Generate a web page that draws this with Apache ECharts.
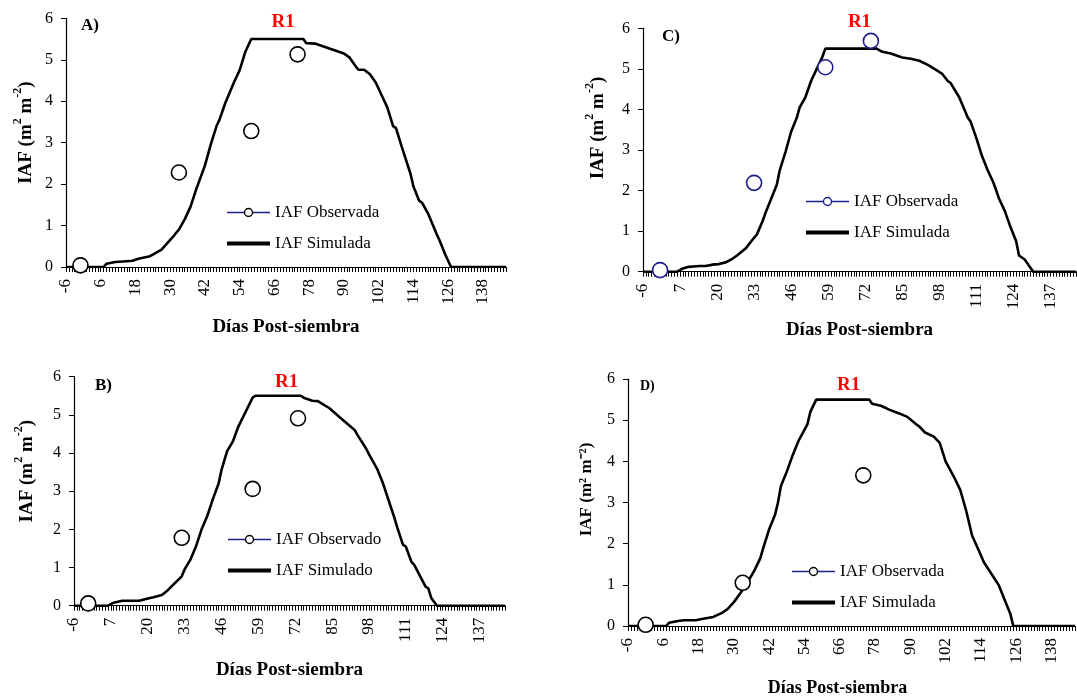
<!DOCTYPE html>
<html>
<head>
<meta charset="utf-8">
<title>IAF observada y simulada</title>
<script src="https://cdn.jsdelivr.net/npm/echarts@6/dist/echarts.min.js"></script>
<style>
  html, body { margin: 0; padding: 0; background: #ffffff; }
  #chart { width: 1077px; height: 698px; }
</style>
</head>
<body>
<div id="chart"></div>
<script>
// Days after sowing on the category axis
const firstDay = -6;
const lastDay = 146;

// A) simulated and observed leaf area index
const simDaysA = [-6, 7, 8, 11, 15, 17, 19, 23, 24, 27, 28, 31, 32, 33, 35, 37, 39, 42, 44, 46, 47, 49, 52, 54, 56, 58, 76, 77, 80, 83, 85, 88, 90, 92, 94, 95, 97, 99, 101, 103, 105, 107, 108, 110, 113, 114, 116, 117, 119, 122, 123, 125, 127, 146];
const simValsA = [0, 0, 0.08, 0.12, 0.14, 0.15, 0.2, 0.26, 0.3, 0.42, 0.5, 0.73, 0.82, 0.9, 1.15, 1.45, 1.88, 2.45, 2.95, 3.4, 3.55, 3.95, 4.45, 4.75, 5.2, 5.5, 5.5, 5.4, 5.39, 5.32, 5.27, 5.2, 5.15, 5.05, 4.85, 4.76, 4.76, 4.65, 4.45, 4.15, 3.85, 3.4, 3.35, 2.9, 2.25, 1.95, 1.6, 1.55, 1.3, 0.8, 0.65, 0.3, 0, 0];
const obsDaysA = [-1, 33, 58, 74];
const obsValsA = [0.04, 2.28, 3.28, 5.13];

// B)
const simDaysB = [-6, 6, 8, 11, 17, 19, 22, 25, 27, 29, 32, 33, 35, 37, 39, 41, 43, 45, 46, 48, 50, 52, 55, 57, 58, 74, 75, 78, 80, 82, 84, 86, 88, 91, 93, 94, 97, 98, 101, 103, 105, 107, 108, 110, 111, 113, 114, 116, 118, 119, 120, 122, 146];
const simValsB = [0, 0, 0.08, 0.13, 0.13, 0.17, 0.22, 0.28, 0.4, 0.55, 0.77, 0.95, 1.2, 1.55, 2.0, 2.35, 2.8, 3.2, 3.55, 4.05, 4.3, 4.7, 5.15, 5.45, 5.5, 5.5, 5.45, 5.37, 5.36, 5.27, 5.18, 5.05, 4.92, 4.73, 4.6, 4.47, 4.12, 3.97, 3.57, 3.2, 2.75, 2.3, 2.05, 1.6, 1.55, 1.15, 1.07, 0.78, 0.5, 0.45, 0.2, 0, 0];
const obsDaysB = [-1, 32, 57, 73];
const obsValsB = [0.06, 1.78, 3.06, 4.91];

// C)
const simDaysC = [-6, 6, 8, 10, 14, 16, 19, 20, 23, 25, 27, 30, 32, 34, 36, 37, 39, 41, 42, 44, 46, 48, 49, 51, 53, 55, 57, 58, 76, 78, 81, 83, 85, 88, 91, 94, 97, 99, 101, 102, 105, 108, 109, 111, 113, 115, 117, 119, 121, 123, 125, 126, 128, 130, 131, 146];
const simValsC = [0, 0, 0.08, 0.12, 0.14, 0.14, 0.18, 0.18, 0.23, 0.3, 0.4, 0.57, 0.75, 0.92, 1.25, 1.45, 1.8, 2.15, 2.5, 2.95, 3.45, 3.8, 4.05, 4.3, 4.7, 5.0, 5.3, 5.5, 5.5, 5.42, 5.38, 5.33, 5.28, 5.25, 5.2, 5.1, 4.97, 4.88, 4.7, 4.65, 4.3, 3.8, 3.7, 3.3, 2.85, 2.5, 2.2, 1.8, 1.5, 1.1, 0.75, 0.4, 0.3, 0.1, 0, 0];
const obsDaysC = [0, 33, 58, 74];
const obsValsC = [0.04, 2.19, 5.04, 5.69];

// D)
const simDaysD = [-6, 7, 8, 11, 13, 17, 20, 23, 26, 28, 30, 32, 34, 37, 39, 40, 42, 44, 45, 46, 48, 50, 52, 55, 56, 58, 76, 77, 80, 83, 86, 89, 92, 93, 95, 98, 100, 102, 105, 107, 109, 111, 114, 115, 118, 120, 122, 124, 125, 146];
const simValsD = [0, 0, 0.08, 0.12, 0.14, 0.14, 0.18, 0.22, 0.32, 0.42, 0.58, 0.78, 0.98, 1.35, 1.65, 1.9, 2.35, 2.7, 3.0, 3.4, 3.75, 4.15, 4.5, 4.9, 5.2, 5.5, 5.5, 5.4, 5.35, 5.25, 5.17, 5.08, 4.9, 4.85, 4.7, 4.6, 4.45, 4.0, 3.6, 3.3, 2.8, 2.2, 1.72, 1.55, 1.22, 1.0, 0.65, 0.3, 0, 0];
const obsDaysD = [0, 33, 74];
const obsValsD = [0.03, 1.05, 3.66];

// Axis and legend texts
const yTicks = [0, 1, 2, 3, 4, 5, 6];
const xTitle = 'Días Post-siembra';
const r1Text = 'R1';

const FONT = '"Liberation Serif", "Times New Roman", Times, serif';
const NAVY = '#1c1c8c';

const categories = [];
for (let d = firstDay; d <= lastDay; d++) categories.push(String(d));

const pair = (days, vals) => days.map((d, i) => [String(d), vals[i]]);

const panels = [
  {
    letter: 'A)', letterPos: { left: 81, top: 17 }, letterSize: 17,
    grid: { left: 66, top: 18.3, width: 440, height: 248.7 },
    every: 12,
    sim: pair(simDaysA, simValsA), obs: pair(obsDaysA, obsValsA),
    obsName: 'IAF Observada', simName: 'IAF Simulada', obsEdge: '#000000',
    legend: { left: 220, top: 199 },
    r1Day: '69', r1Dy: 4,
    superscript: true, yNameGap: 30, yNameSize: 19, yLift: 20,
    xNameGap: 51, xNameSize: 19, xShift: 0
  },
  {
    letter: 'C)', letterPos: { left: 662, top: 28 }, letterSize: 17,
    grid: { left: 643, top: 28.3, width: 433, height: 243.4 },
    every: 13,
    sim: pair(simDaysC, simValsC), obs: pair(obsDaysC, obsValsC),
    obsName: 'IAF Observada', simName: 'IAF Simulada', obsEdge: NAVY,
    legend: { left: 799, top: 188 },
    r1Day: '70', r1Dy: -6,
    superscript: true, yNameGap: 35, yNameSize: 19, yLift: 44,
    xNameGap: 49, xNameSize: 19, xShift: 0
  },
  {
    letter: 'B)', letterPos: { left: 95, top: 377 }, letterSize: 17,
    grid: { left: 74, top: 376.7, width: 431, height: 229 },
    every: 13,
    sim: pair(simDaysB, simValsB), obs: pair(obsDaysB, obsValsB),
    obsName: 'IAF Observado', simName: 'IAF Simulado', obsEdge: '#000000',
    legend: { left: 221, top: 526 },
    r1Day: '69', r1Dy: 5,
    superscript: true, yNameGap: 37, yNameSize: 19, yLift: 40,
    xNameGap: 55, xNameSize: 19, xShift: 0
  },
  {
    letter: 'D)', letterPos: { left: 640, top: 379 }, letterSize: 14,
    grid: { left: 628, top: 379, width: 447, height: 248.3 },
    every: 12,
    sim: pair(simDaysD, simValsD), obs: pair(obsDaysD, obsValsD),
    obsName: 'IAF Observada', simName: 'IAF Simulada', obsEdge: '#000000',
    legend: { left: 785, top: 558 },
    r1Day: '69', r1Dy: 6,
    superscript: false, yNameGap: 33, yNameSize: 17, yLift: 26,
    xNameGap: 53, xNameSize: 18, xShift: -14
  }
];

const grids = [], xAxes = [], yAxes = [], series = [], legends = [], titles = [];

panels.forEach((p, i) => {
  grids.push(Object.assign({ containLabel: false }, p.grid));

  xAxes.push({
    type: 'category',
    gridIndex: i,
    data: categories,
    boundaryGap: false,
    axisLine: { show: true, lineStyle: { color: '#000', width: 1.2 } },
    axisTick: { show: true, interval: 0, length: 5, lineStyle: { color: '#000', width: 1 } },
    axisLabel: {
      interval: p.every - 1, rotate: 90, margin: 12,
      fontFamily: FONT, fontSize: 17, color: '#000'
    },
    splitLine: { show: false },
    name: xTitle,
    nameLocation: 'middle',
    nameGap: p.xNameGap,
    nameTextStyle: {
      fontFamily: FONT, fontWeight: 'bold', fontSize: p.xNameSize, color: '#000',
      padding: p.xShift < 0 ? [0, -2 * p.xShift, 0, 0] : 0
    }
  });

  const yName = p.superscript ? '{t|IAF (m}{s|2}{t| m}{s|-2}{t|)}' : 'IAF (m² m⁻²)';
  yAxes.push({
    type: 'value',
    gridIndex: i,
    min: 0, max: 6, interval: 1,
    axisLine: { show: true, lineStyle: { color: '#000', width: 1.2 } },
    axisTick: { show: true, length: 5, lineStyle: { color: '#000', width: 1 } },
    axisLabel: {
      margin: 13, fontFamily: FONT, fontSize: 16, color: '#000',
      customValues: yTicks
    },
    splitLine: { show: false },
    name: yName,
    nameLocation: 'middle',
    nameRotate: 90,
    nameGap: p.yNameGap,
    nameTextStyle: {
      fontFamily: FONT, fontWeight: 'bold', fontSize: p.yNameSize, color: '#000',
      padding: [0, 0, 0, p.yLift],
      rich: {
        t: { fontFamily: FONT, fontWeight: 'bold', fontSize: p.yNameSize, color: '#000', lineHeight: 24, verticalAlign: 'bottom' },
        s: { fontFamily: FONT, fontWeight: 'bold', fontSize: 12, color: '#000', lineHeight: 14, verticalAlign: 'top' }
      }
    }
  });

  series.push({
    name: p.simName,
    type: 'line',
    xAxisIndex: i, yAxisIndex: i,
    data: p.sim,
    symbol: 'none',
    lineStyle: { color: '#000', width: 2.6 },
    itemStyle: { color: '#000' },
    z: 2,
    markPoint: {
      symbol: 'circle', symbolSize: 1,
      itemStyle: { color: 'rgba(0,0,0,0)' },
      label: {
        show: true, position: 'inside', formatter: r1Text, offset: [0, p.r1Dy],
        fontFamily: FONT, fontWeight: 'bold', fontSize: 19, color: '#ff0000'
      },
      data: [{ coord: [p.r1Day, 6] }]
    }
  });

  series.push({
    name: p.obsName,
    type: 'line',
    xAxisIndex: i, yAxisIndex: i,
    data: p.obs,
    symbol: 'circle',
    symbolSize: 15,
    showSymbol: true,
    showAllSymbol: true,
    lineStyle: { width: 0, opacity: 0 },
    itemStyle: { color: '#ffffff', borderColor: p.obsEdge, borderWidth: 1.6 },
    z: 3
  });

  legends.push({
    orient: 'vertical',
    left: p.legend.left, top: p.legend.top,
    itemWidth: 43, itemHeight: 10, itemGap: 14,
    selectedMode: false,
    textStyle: { fontFamily: FONT, fontSize: 17, color: '#000' },
    data: [
      {
        name: p.obsName,
        itemStyle: { color: '#ffffff', borderColor: p.obsEdge, borderWidth: 1.4 },
        lineStyle: { color: NAVY, width: 1.4, opacity: 1 }
      },
      {
        name: p.simName,
        itemStyle: { opacity: 0 },
        lineStyle: { color: '#000', width: 4, opacity: 1 }
      }
    ]
  });

  titles.push({
    text: p.letter,
    left: p.letterPos.left, top: p.letterPos.top,
    padding: 0,
    textStyle: { fontFamily: FONT, fontWeight: 'bold', fontSize: p.letterSize, color: '#000' }
  });
});

const chart = echarts.init(document.getElementById('chart'), null, { renderer: 'canvas' });
chart.setOption({
  backgroundColor: '#ffffff',
  animation: false,
  title: titles,
  grid: grids,
  xAxis: xAxes,
  yAxis: yAxes,
  legend: legends,
  series: series
});
</script>
</body>
</html>
